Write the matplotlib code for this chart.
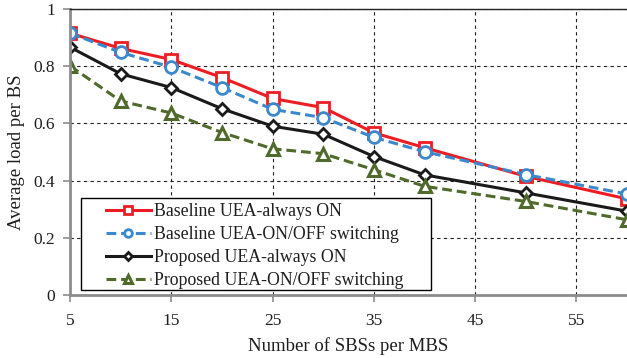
import matplotlib.pyplot as plt
from matplotlib.patches import Rectangle

plt.rcParams['font.family'] = ['Liberation Serif', 'DejaVu Serif']
plt.rcParams['font.size'] = 12

# 每个MBS下的SBS数量
sbs_num = [5, 10, 15, 20, 25, 30, 35, 40, 50, 60]

# 平均负载
baseline_on = [0.915, 0.862, 0.823, 0.760, 0.687, 0.655, 0.567, 0.515, 0.415, 0.336]
baseline_onoff = [0.915, 0.848, 0.796, 0.725, 0.649, 0.620, 0.551, 0.501, 0.421, 0.353]
proposed_on = [0.866, 0.773, 0.725, 0.651, 0.590, 0.562, 0.484, 0.420, 0.357, 0.293]
proposed_onoff = [0.800, 0.678, 0.636, 0.568, 0.511, 0.494, 0.438, 0.380, 0.327, 0.263]

labels = ['Baseline UEA-always ON', 'Baseline UEA-ON/OFF switching',
          'Proposed UEA-always ON', 'Proposed UEA-ON/OFF switching']

fig = plt.figure(figsize=(6.27, 3.58), dpi=100)
ax = fig.add_axes([0.112, 0.176, 0.888, 0.799])

dash = (0, (3.2, 1.6))
ax.plot(sbs_num, baseline_on, color='#EE1D23', lw=2.2, marker='s', ms=8,
        mfc='white', mec='#EE1D23', mew=2, label=labels[0])
ax.plot(sbs_num, baseline_onoff, color='#3B88CC', lw=2.2, ls=dash, marker='o', ms=8.5,
        mfc='white', mec='#3B88CC', mew=2, label=labels[1])
ax.plot(sbs_num, proposed_on, color='#1A1A1A', lw=2.2, marker='D', ms=6.5,
        mfc='white', mec='#1A1A1A', mew=2, label=labels[2])
ax.plot(sbs_num, proposed_onoff, color='#4F6A2B', lw=2.2, ls=dash, marker='^', ms=8,
        mfc='white', mec='#4F6A2B', mew=2.2, label=labels[3])

ax.set_xlim(5, 60)
ax.set_ylim(0, 1)
ax.set_xticks([5, 15, 25, 35, 45, 55])
ax.set_yticks([0, 0.2, 0.4, 0.6, 0.8, 1.0])
ax.set_yticklabels(['0', '0.2', '0.4', '0.6', '0.8', '1'])

ax.grid(True, color='#222222', ls=(0, (3, 3)), lw=0.8)
ax.set_axisbelow(True)

ax.spines['right'].set_visible(False)
ax.spines['top'].set_color('#222222')
ax.spines['top'].set_linewidth(1.0)
ax.spines['left'].set_color('#8C8C8C')
ax.spines['left'].set_linewidth(2)
ax.spines['bottom'].set_color('#8C8C8C')
ax.spines['bottom'].set_linewidth(2)
ax.tick_params(axis='both', colors='#8C8C8C', labelcolor='#1E1E1E', length=5,
               width=1.2, labelsize=12.5)
ax.tick_params(axis='x', pad=8)
ax.tick_params(axis='y', pad=6)

ax.set_xlabel('Number of SBSs per MBS', fontsize=13.5, color='#1E1E1E', labelpad=6)
ax.set_ylabel('Average load per BS', fontsize=13.5, color='#1E1E1E', labelpad=6)

# 图例边框单独绘制
ax.add_patch(Rectangle((0.0197, 0.0175), 0.629, 0.322, transform=ax.transAxes,
                       facecolor='white', edgecolor='black', lw=1.0, zorder=4))
leg = ax.legend(loc='lower left', bbox_to_anchor=(0.0646, 0.021), fontsize=12.8,
                frameon=False, handlelength=2.5, labelspacing=0.33, borderpad=0,
                borderaxespad=0, handletextpad=0.2, markerscale=0.65)
leg.set_zorder(5)
for t in leg.get_texts():
    t.set_color('#1E1E1E')

fig.savefig('out.png', dpi=100)
